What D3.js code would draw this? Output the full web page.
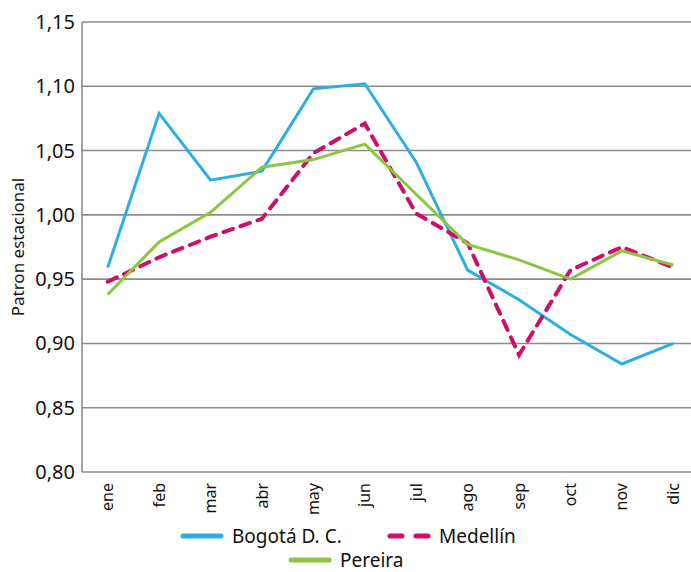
<!DOCTYPE html>
<html>
<head>
<meta charset="utf-8">
<script src="https://cdn.jsdelivr.net/npm/d3@7"></script>
<style>
  body { margin: 0; background: #fff; }
  svg { display: block; font-family: "Noto Sans", sans-serif; }
</style>
</head>
<body>
<div id="chart"></div>
<script>
// months on x axis
const months = ["ene", "feb", "mar", "abr", "may", "jun", "jul", "ago", "sep", "oct", "nov", "dic"]
const yTicks = [0.80, 0.85, 0.90, 0.95, 1.00, 1.05, 1.10, 1.15]

// seasonal pattern per city
const bogota   = [0.959, 1.079, 1.027, 1.034, 1.098, 1.102, 1.041, 0.957, 0.934, 0.907, 0.884, 0.900]
const medellin = [0.948, 0.967, 0.983, 0.997, 1.048, 1.071, 1.001, 0.978, 0.891, 0.957, 0.975, 0.959]
const pereira  = [0.938, 0.979, 1.002, 1.037, 1.043, 1.055, 1.016, 0.977, 0.965, 0.950, 0.972, 0.961]

const series = [
    {name: "Bogotá D. C.", values: bogota, color: "#2aaee4", dash: null, width: 3},
    {name: "Medellín", values: medellin, color: "#cf0e69", dash: "10,8", width: 4},
    {name: "Pereira", values: pereira, color: "#8cc540", dash: null, width: 3}
]

const width = 691
const height = 572
const margin = {top: 22, right: -8, bottom: 100, left: 82}

const svg = d3.select("#chart").append("svg")
    .attr("width", width)
    .attr("height", height)

const x = d3.scaleBand()
    .domain(months)
    .range([margin.left, width - margin.right])

const y = d3.scaleLinear()
    .domain([0.80, 1.15])
    .range([height - margin.bottom, margin.top])

const fmt = d => d3.format(".2f")(d).replace(".", ",")

// gridlines
svg.append("g")
    .selectAll("line")
    .data(yTicks)
    .join("line")
        .attr("x1", margin.left)
        .attr("x2", width - margin.right)
        .attr("y1", d => y(d))
        .attr("y2", d => y(d))
        .attr("stroke", "#8c8c8c")
        .attr("stroke-width", 1.6)

// left axis line
svg.append("line")
    .attr("x1", margin.left).attr("x2", margin.left)
    .attr("y1", y(1.15)).attr("y2", y(0.80))
    .attr("stroke", "#8c8c8c")
    .attr("stroke-width", 1.6)

// y tick labels
svg.append("g")
    .selectAll("text")
    .data(yTicks)
    .join("text")
        .attr("x", margin.left - 7)
        .attr("y", d => y(d))
        .attr("dy", "0.35em")
        .attr("text-anchor", "end")
        .attr("font-size", 20)
        .attr("fill", "#111")
        .text(fmt)

// x labels, rotated
svg.append("g")
    .selectAll("text")
    .data(months)
    .join("text")
        .attr("transform", d => `translate(${x(d) + x.bandwidth() / 2},${y(0.80) + 11}) rotate(-90)`)
        .attr("dy", "0.35em")
        .attr("text-anchor", "end")
        .attr("font-size", 16)
        .attr("fill", "#111")
        .text(d => d)

// y title
svg.append("text")
    .attr("transform", `translate(18,${(y(0.80) + y(1.15)) / 2}) rotate(-90)`)
    .attr("dy", "0.35em")
    .attr("text-anchor", "middle")
    .attr("font-size", 17)
    .attr("fill", "#111")
    .text("Patron estacional")

const line = d3.line()
    .x((d, i) => x(months[i]) + x.bandwidth() / 2)
    .y(d => y(d))

svg.append("g")
    .selectAll("path")
    .data(series)
    .join("path")
        .attr("d", d => line(d.values))
        .attr("fill", "none")
        .attr("stroke", d => d.color)
        .attr("stroke-width", d => d.width)
        .attr("stroke-dasharray", d => d.dash)
        .attr("stroke-linecap", d => d.dash ? "round" : "butt")

// legend
const legendPos = [
    {x: 183, y: 536},
    {x: 390, y: 536},
    {x: 291, y: 560}
]
const legend = svg.append("g")
    .selectAll("g")
    .data(series)
    .join("g")
        .attr("transform", (d, i) => `translate(${legendPos[i].x},${legendPos[i].y})`)

legend.append("line")
    .attr("x1", 0).attr("x2", 38)
    .attr("stroke", d => d.color)
    .attr("stroke-width", 5)
    .attr("stroke-linecap", "round")
    .attr("stroke-dasharray", d => d.dash ? "12,14" : null)

legend.append("text")
    .attr("x", 49)
    .attr("dy", "0.35em")
    .attr("font-size", 19)
    .attr("fill", "#111")
    .text(d => d.name)
</script>
</body>
</html>
